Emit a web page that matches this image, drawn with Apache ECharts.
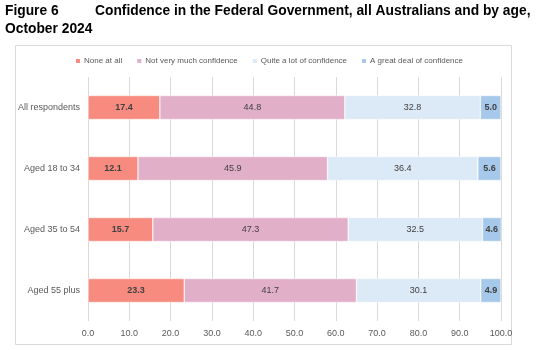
<!DOCTYPE html>
<html><head><meta charset="utf-8">
<script src="https://cdn.jsdelivr.net/npm/echarts@6/dist/echarts.min.js"></script>
<style>html,body{margin:0;padding:0;background:#fff}#c{width:537px;height:350px}</style>
</head><body><div id="c"></div>
<script>
const categories = ['All respondents', 'Aged 18 to 34', 'Aged 35 to 54', 'Aged 55 plus'];
const seriesNames = ['None at all', 'Not very much confidence', 'Quite a lot of confidence', 'A great deal of confidence'];
const noneAtAll = [17.4, 12.1, 15.7, 23.3];
const notVeryMuch = [44.8, 45.9, 47.3, 41.7];
const quiteALot = [32.8, 36.4, 32.5, 30.1];
const greatDeal = [5.0, 5.6, 4.6, 4.9];
const xTicks = [0, 10, 20, 30, 40, 50, 60, 70, 80, 90, 100];

const colors = ['#F78B80', '#E2AFC9', '#DCE9F6', '#A6C9EB'];
const bolds = [true, false, false, true];
const values = [noneAtAll, notVeryMuch, quiteALot, greatDeal];
const font = 'Liberation Sans';

const chart = echarts.init(document.getElementById('c'));
chart.setOption({
  animation: false,
  graphic: [
    {type: 'rect', shape: {x: 15.5, y: 45.5, width: 496, height: 299}, style: {fill: 'none', stroke: '#D9D9D9', lineWidth: 1}, z: -1},
    {type: 'text', left: 5, top: 4, style: {text: 'Figure 6', font: 'bold 13.8px "Liberation Sans"', fill: '#000'}},
    {type: 'text', left: 95, top: 4, style: {text: 'Confidence in the Federal Government, all Australians and by age,', font: 'bold 13.8px "Liberation Sans"', fill: '#000'}},
    {type: 'text', left: 5, top: 22, style: {text: 'October 2024', font: 'bold 13.8px "Liberation Sans"', fill: '#000'}}
  ],
  legend: {
    top: 52, left: 'center',
    itemWidth: 6, itemHeight: 6, itemGap: 13,
    icon: 'rect',
    textStyle: {fontFamily: font, fontSize: 8, color: '#595959', padding: [0, 0, 0, -2]},
    data: seriesNames
  },
  grid: {left: 88, right: 36, top: 77, bottom: 29, containLabel: false},
  xAxis: {
    type: 'value', min: 0, max: 100, interval: 10,
    axisLabel: {fontFamily: font, fontSize: 9, color: '#595959', formatter: v => xTicks.includes(v) ? v.toFixed(1) : ''},
    splitLine: {lineStyle: {color: '#D9D9D9'}},
    axisLine: {show: false}, axisTick: {show: false}
  },
  yAxis: {
    type: 'category', data: categories, inverse: true,
    axisLabel: {fontFamily: font, fontSize: 9, color: '#595959', margin: 8},
    axisLine: {show: false}, axisTick: {show: false}
  },
  series: values.map((vals, i) => ({
    name: seriesNames[i], type: 'bar', stack: 'total',
    data: vals, barWidth: 24,
    itemStyle: {color: colors[i], borderColor: '#fff', borderWidth: 0.5},
    label: {show: true, position: 'inside', fontFamily: font, fontSize: 9,
      fontWeight: bolds[i] ? 'bold' : 'normal', color: '#404040',
      formatter: p => p.value.toFixed(1)}
  }))
});
</script></body></html>
